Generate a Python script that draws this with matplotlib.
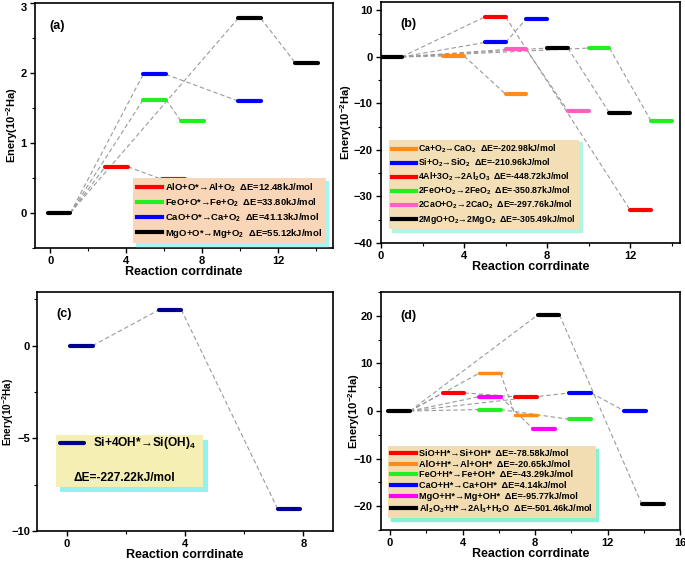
import numpy as np
import matplotlib
matplotlib.use('Agg')
import matplotlib.pyplot as plt
from matplotlib.lines import Line2D
from matplotlib.patches import Rectangle
from matplotlib.ticker import AutoMinorLocator

plt.rcParams['font.family'] = ['Liberation Sans', 'DejaVu Sans']
plt.rcParams['font.weight'] = 'bold'
plt.rcParams['axes.labelweight'] = 'bold'
plt.rcParams['mathtext.fontset'] = 'custom'
plt.rcParams['mathtext.rm'] = 'Liberation Sans:bold'
plt.rcParams['mathtext.it'] = 'Liberation Sans:bold'
plt.rcParams['mathtext.bf'] = 'Liberation Sans:bold'
plt.rcParams['mathtext.default'] = 'rm'

# (a) oxide + O*
a_names = ['AlO+O*→Al+O$_2$', 'FeO+O*→Fe+O$_2$', 'CaO+O*→Ca+O$_2$', 'MgO+O*→Mg+O$_2$']
a_dE = [12.48, 33.80, 41.13, 55.12]
a_colors = ['#ff0000', '#22ee22', '#0000ff', '#000000']
a_x1 = [3.5, 5.5, 5.5, 10.5]
a_E1 = [0.66, 1.62, 1.98, 2.78]
a_x2 = [6.5, 7.5, 10.5, 13.5]
a_E2 = [0.48, 1.31, 1.60, 2.15]

# (b) + O2
b_names = ['Ca+O$_2$→CaO$_2$', 'Si+O$_2$→SiO$_2$', '4Al+3O$_2$→2Al$_2$O$_3$',
           '2FeO+O$_2$→2FeO$_2$', '2CaO+O$_2$→2CaO$_2$', '2MgO+O$_2$→2MgO$_2$']
b_dE = [-202.98, -210.96, -448.72, -350.87, -297.76, -305.49]
b_colors = ['#ff8c1a', '#0000ff', '#ff0000', '#22ee22', '#ff5fc0', '#000000']
b_x1 = [3.5, 5.5, 5.5, 10.5, 6.5, 8.5]
b_E1 = [0.2, 3.1, 8.6, 1.9, 1.6, 1.9]
b_x2 = [6.5, 7.5, 12.5, 13.5, 9.5, 11.5]
b_E2 = [-8.0, 8.2, -32.9, -13.7, -11.6, -12.0]

# (c) Si + 4OH*
c_x = [0.5, 3.5, 7.5]
c_E = [0.0, 1.94, -8.79]

# (d) + H*
d_names = ['SiO+H*→Si+OH*', 'AlO+H*→Al+OH*', 'FeO+H*→Fe+OH*',
           'CaO+H*→Ca+OH*', 'MgO+H*→Mg+OH*', 'Al$_2$O$_3$+H*→2Al$_3$+H$_2$O']
d_dE = [-78.58, -20.65, -43.29, 4.14, -95.77, -501.46]
d_colors = ['#ff0000', '#ff8c1a', '#22ee22', '#0000ff', '#ff00ff', '#000000']
d_x1 = [3.5, 5.5, 5.5, 10.5, 5.5, 8.75]
d_E1 = [3.8, 7.9, 0.3, 3.8, 3.0, 20.2]
d_x2 = [7.5, 7.5, 10.5, 13.5, 8.5, 14.5]
d_E2 = [3.0, -0.9, -1.75, 0.07, -3.8, -19.6]

W, H = 685, 562
fig = plt.figure(figsize=(W / 100, H / 100), dpi=100)


def px_axes(l, t, r, b):
    return fig.add_axes([l / W, 1 - b / H, (r - l) / W, (b - t) / H])


def path(ax, xs, es, color, w, lw=3, skip_first=False):
    h = w / 2
    for i in range(len(xs) - 1):
        ax.plot([xs[i] + h, xs[i + 1] - h], [es[i], es[i + 1]], ls=(0, (4, 2.5)),
                color='#9a9a9a', lw=0.8, zorder=1)
    for i in range(len(xs)):
        if skip_first and i == 0:
            continue
        ax.plot([xs[i] - h, xs[i] + h], [es[i], es[i]], color=color, lw=lw,
                solid_capstyle='round', zorder=3)


def style(ax, xticks, xlim, yticks, ylim, tag, tagpos, ylab_x, ylab_fs=8):
    ax.set_xticks(xticks)
    ax.set_yticks(yticks)
    ax.set_xlim(*xlim)
    ax.set_ylim(*ylim)
    ax.xaxis.set_minor_locator(AutoMinorLocator(2))
    ax.yaxis.set_minor_locator(AutoMinorLocator(2))
    ax.tick_params(which='major', direction='out', length=3.5, width=1, labelsize=8, pad=2.5)
    ax.tick_params(which='minor', direction='out', length=2, width=0.8)
    for s in ax.spines.values():
        s.set_linewidth(1.2)
    ax.set_xlabel('Reaction corrdinate', fontsize=9, labelpad=0)
    ax.set_ylabel('Enery(10$^{-2}$Ha)', fontsize=ylab_fs)
    ax.yaxis.set_label_coords(ylab_x, 0.5)
    ax.text(tagpos[0], tagpos[1], tag, transform=ax.transAxes, fontsize=9,
            fontweight='bold', va='center', ha='left')


def legend(ax, names, dE, colors, loc, anchor, face, shade, fs, spacing):
    handles = [Line2D([], [], color=c, lw=3) for c in colors]
    labels = [f'{n}  ΔE={e:.2f}kJ/mol' for n, e in zip(names, dE)]
    ax.legend(handles, labels, loc=loc, bbox_to_anchor=anchor, borderaxespad=0,
              fontsize=fs, handlelength=2.7, handletextpad=0.3, borderpad=0.35,
              labelspacing=spacing, facecolor=face, edgecolor='none', framealpha=1,
              fancybox=False, shadow={'facecolor': shade, 'edgecolor': shade, 'alpha': 1})


# ---- (a)
ax = px_axes(35, 3, 333, 248)
for i in range(4):
    path(ax, [0.46, a_x1[i], a_x2[i]], [0, a_E1[i], a_E2[i]], a_colors[i], 1.2, skip_first=True)
ax.plot([0.46 - 0.6, 0.46 + 0.6], [0, 0], color='black', lw=3, solid_capstyle='round', zorder=3)
style(ax, [0, 4, 8, 12], (-0.8, 14.9), [0, 1, 2, 3], (-0.5, 3.0), '(a)', (0.047, 0.905), -0.05)
ax.get_yticklabels()[-1].set_va('top')
legend(ax, a_names, a_dE, a_colors, 'lower right', (0.975, 0.02), '#f9d6b8', '#a6f4f4', 6.8, 0.28)

# ---- (b)
ax = px_axes(381, 2, 680, 243)
for i in range(6):
    path(ax, [0.5, b_x1[i], b_x2[i]], [0, b_E1[i], b_E2[i]], b_colors[i], 1.0, skip_first=True)
ax.plot([0, 1.0], [0, 0], color='black', lw=3, solid_capstyle='round', zorder=3)
style(ax, [0, 4, 8, 12], (0, 14.4), [-40, -30, -20, -10, 0, 10], (-40, 11.8), '(b)', (0.064, 0.91), -0.09)
legend(ax, b_names, b_dE, b_colors, 'lower left', (0.027, 0.058), '#f3dfb6', '#b0f6e2', 6.3, 0.18)

# ---- (c)
ax = px_axes(37, 292, 333, 531)
path(ax, c_x, c_E, '#000090', 0.75)
style(ax, [0, 4, 8], (-1, 9), [-10, -5, 0], (-10, 2.9), '(c)', (0.064, 0.91), -0.07, 7.2)
ax.tick_params(axis='y', which='major', pad=1.5)
ax.add_patch(Rectangle((0.079, 0.165), 0.498, 0.216, transform=ax.transAxes,
                       facecolor='#92f2f2', edgecolor='none', zorder=4))
ax.add_patch(Rectangle((0.064, 0.184), 0.498, 0.216, transform=ax.transAxes,
                       facecolor='#f6efb3', edgecolor='none', zorder=5))
ax.plot([0.078, 0.158], [0.368, 0.368], transform=ax.transAxes, color='#000090', lw=3,
        solid_capstyle='round', zorder=6)
ax.text(0.188, 0.368, 'Si+4OH*→Si(OH)$_4$', transform=ax.transAxes, fontsize=8.6,
        va='center', ha='left', zorder=6)
ax.text(0.125, 0.222, 'ΔE=-227.22kJ/mol', transform=ax.transAxes, fontsize=8.6,
        va='center', ha='left', zorder=6)

# ---- (d)
ax = px_axes(381, 292, 680, 530)
for i in range(6):
    path(ax, [0.5, d_x1[i], d_x2[i]], [0, d_E1[i], d_E2[i]], d_colors[i], 1.2,
         lw=2.5 if d_colors[i] == '#ff8c1a' else 3, skip_first=True)
ax.plot([0.5 - 0.6, 0.5 + 0.6], [0, 0], color='black', lw=3, solid_capstyle='round', zorder=3)
style(ax, [0, 4, 8, 12, 16], (-0.5, 16), [-20, -10, 0, 10, 20], (-25, 25), '(d)', (0.064, 0.90), -0.062)
legend(ax, d_names, d_dE, d_colors, 'lower left', (0.023, 0.05), '#f2ddb3', '#86f0d6', 6.6, 0.18)

fig.savefig('out.png', dpi=100)
